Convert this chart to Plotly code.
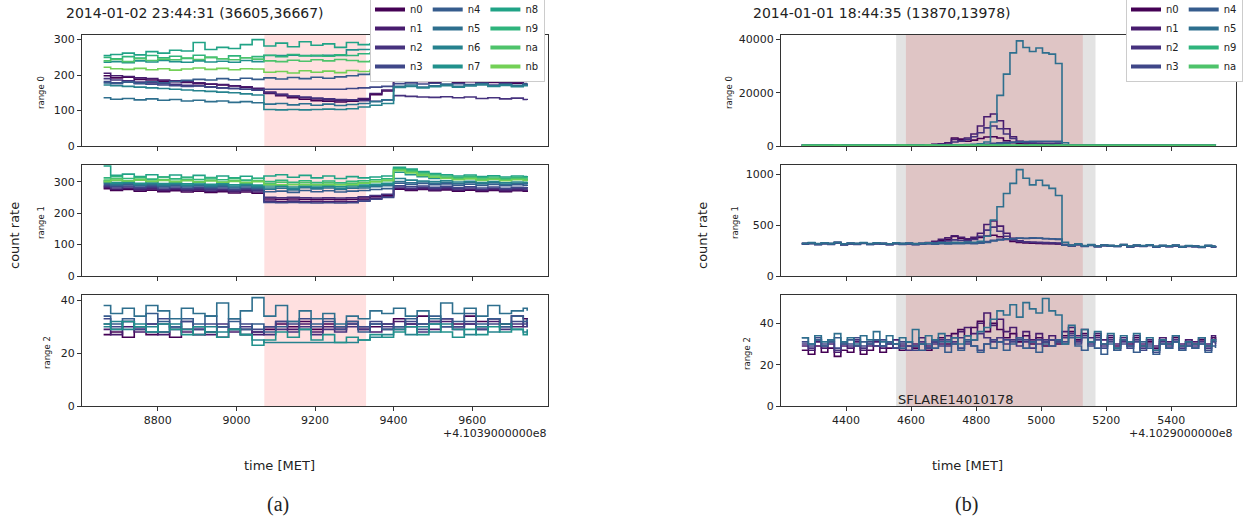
import plotly.graph_objects as go

# ---------------- data: panel (a) ----------------
# time offsets [s] relative to 4.1039e8
t_a = [8662, 8680, 8710, 8740, 8770, 8800, 8830, 8860, 8890, 8920, 8950, 8980, 9010, 9040,
       9070, 9100, 9130, 9160, 9190, 9220, 9250, 9280, 9310, 9340, 9370, 9400, 9430, 9460,
       9490, 9520, 9550, 9580, 9610, 9640, 9670, 9700, 9730, 9740]

# range 0
a_r0_n0 = [198,192,194,188,186,183,181,179,176,174, 172,169,166,160,148,142,136,132,128,126, 124,126,130,145,155,188,185,182,180,183, 178,181,177,179,175,177,172,170]
a_r0_n1 = [205,198,196,192,190,186,184,181,178,175, 173,170,167,163,152,146,140,136,133,130, 128,129,134,148,158,194,190,187,184,186, 182,184,180,182,178,180,176,176]
a_r0_n2 = [190,186,184,180,178,176,174,171,169,167, 164,162,160,157,150,145,141,138,135,133, 131,130,128,126,130,142,140,138,137,139, 136,138,134,136,133,135,131,130]
a_r0_n3 = [182,178,180,176,174,172,170,168,170,166, 164,162,160,158,160,160,160,160,160,160, 160,162,164,166,168,176,178,175,177,174, 176,173,175,172,174,170,172,171]
a_r0_n4 = [178,176,180,177,181,178,182,185,188,186, 190,187,191,188,192,189,193,190,194,191, 195,198,202,205,210,214,212,215,211,214, 210,213,209,212,208,211,207,209]
a_r0_n5 = [136,132,134,130,133,129,131,127,129,125, 127,123,125,122,118,120,116,119,115,118, 114,117,120,125,130,168,172,166,170,174, 168,172,176,170,174,171,175,174]
a_r0_n6 = [172,170,168,166,164,162,160,158,156,154, 152,150,147,144,103,102,103,102,103,104, 103,105,110,115,120,165,168,164,167,170, 166,169,172,168,171,167,170,168]
a_r0_n7 = [236,238,235,240,237,241,238,236,240,237, 239,236,241,238,255,255,256,255,254,256, 255,271,272,272,271,272,270,271,269,270, 268,269,267,268,266,267,265,266]
a_r0_n8 = [255,258,262,257,266,262,270,268,292,272, 278,275,286,300,282,290,280,294,284,288, 278,292,286,288,282,290,284,280,288,282, 286,290,284,288,282,286,280,284]
a_r0_n9 = [250,246,252,248,255,249,253,247,256,250, 246,254,249,252,256,252,258,254,256,253, 257,255,260,262,258,264,260,262,258,261, 259,263,260,258,262,259,261,260]
a_r0_na = [240,244,238,246,241,245,243,248,244,250, 246,243,249,245,240,238,242,239,243,240, 244,241,238,240,236,238,235,237,234,236, 233,235,232,234,231,233,230,232]
a_r0_nb = [222,218,216,219,215,218,214,217,220,216, 219,215,218,217,208,210,206,212,208,211, 207,213,210,214,216,212,215,211,214,210, 213,208,211,207,209,205,207,204]

# range 1
a_r1_n0 = [278,272,275,270,273,268,271,267,270,266, 268,264,267,263,245,244,245,244,243,244, 243,244,248,252,256,276,272,275,271,274, 270,273,269,272,268,271,270,272]
a_r1_n1 = [282,276,279,274,277,272,275,271,274,270, 272,268,271,267,238,237,238,237,236,237, 236,237,242,247,252,279,275,278,274,277, 273,276,272,275,271,274,273,275]
a_r1_n2 = [285,280,283,278,281,276,279,275,278,274, 276,272,275,271,250,249,250,249,248,249, 248,249,252,256,260,283,279,282,278,281, 277,280,276,279,275,278,277,279]
a_r1_n3 = [288,284,286,282,285,280,283,279,282,278, 280,276,279,275,234,233,234,233,232,233, 232,233,238,244,250,287,284,286,282,285, 281,284,280,283,279,282,281,283]
a_r1_n4 = [292,288,290,286,289,284,287,283,286,282, 284,280,283,279,268,270,266,272,268,271, 267,270,272,275,278,295,291,294,290,293, 289,292,288,291,287,290,289,291]
a_r1_n5 = [295,290,294,289,292,287,291,286,289,285, 288,283,287,282,276,279,274,281,277,280, 275,279,280,284,287,300,296,299,295,298, 294,297,293,296,292,295,294,296]
a_r1_n6 = [298,294,297,292,295,290,294,289,292,288, 291,286,290,285,280,284,278,285,281,284, 279,283,284,288,291,310,305,302,300,303, 299,301,297,300,296,299,298,300]
a_r1_n7 = [302,297,300,295,299,294,297,293,296,292, 295,290,293,289,286,289,283,290,286,289, 284,288,289,292,295,330,322,316,310,312, 308,311,306,309,305,308,306,308]
a_r1_n8 = [350,320,324,316,322,315,321,314,320,313, 318,312,317,311,318,322,314,320,312,318, 310,316,312,315,318,346,340,332,326,322, 318,321,316,319,315,318,316,318]
a_r1_n9 = [312,316,310,314,308,315,309,313,307,312, 306,311,305,310,300,304,298,303,297,302, 296,301,303,306,309,342,336,328,322,318, 314,317,312,315,311,314,312,314]
a_r1_na = [305,309,303,308,302,307,301,306,300,305, 299,304,298,303,294,298,292,297,291,296, 290,295,297,300,303,338,332,324,318,314, 310,313,308,311,307,310,308,310]
a_r1_nb = [300,304,302,305,301,304,300,303,299,302, 298,301,297,300,290,290,290,290,290,290, 290,290,295,300,304,335,328,320,314,310, 306,309,304,307,303,306,304,306]

# range 2
a_r2_n0 = [27,28,26,29,27,28,26,29,27,28, 26,29,27,28,29,31,30,32,29,31, 30,32,29,30,31,33,31,34,32,33, 31,34,32,33,31,34,33,32]
a_r2_n1 = [29,27,30,28,31,27,30,28,29,27, 30,28,29,27,30,32,29,31,28,30, 29,31,30,28,29,32,30,31,29,32, 30,31,29,32,31,30,32,31]
a_r2_n2 = [31,29,32,30,28,31,29,32,30,28, 31,29,30,28,27,29,28,30,27,29, 28,30,29,31,30,29,31,28,32,30, 29,31,30,33,29,31,30,32]
a_r2_n3 = [33,30,32,29,31,33,30,32,29,31, 30,33,31,29,30,32,31,33,30,32, 29,31,30,32,31,30,32,29,31,33, 30,32,29,31,30,32,31,30]
a_r2_n4 = [34,31,33,30,35,32,30,33,31,34, 30,32,29,31,28,30,32,29,31,33, 30,32,28,31,29,30,33,31,34,30, 32,35,31,33,30,34,32,33]
a_r2_n5 = [38,35,37,34,38,36,33,37,35,34, 39,33,36,41,34,38,32,36,33,35, 31,34,33,36,35,37,34,36,33,39, 35,37,34,38,35,36,37,36]
a_r2_n6 = [30,32,29,31,30,28,31,29,27,30, 28,29,27,25,24,24,24,24,24,24, 24,24,25,26,27,29,27,30,28,31, 29,27,30,28,31,29,28,29]
a_r2_n7 = [31,29,32,30,28,31,29,27,30,28, 26,29,27,23,25,28,26,29,25,27, 24,26,25,27,26,28,30,27,31,28, 26,29,27,30,28,29,27,28]

# ---------------- data: panel (b) ----------------
# time offsets [s] relative to 4.1029e8
t_b = [4264, 4284, 4304, 4324, 4344, 4364, 4384, 4404, 4424, 4444,
       4464, 4484, 4504, 4524, 4544, 4564, 4584, 4604, 4624, 4644,
       4664, 4684, 4704, 4724, 4744, 4764, 4784, 4804, 4824, 4844,
       4864, 4884, 4904, 4924, 4944, 4964, 4984, 5004, 5024, 5044,
       5064, 5084, 5104, 5124, 5144, 5164, 5184, 5204, 5224, 5244,
       5264, 5284, 5304, 5324, 5344, 5364, 5384, 5404, 5424, 5444,
       5464, 5484, 5504, 5524, 5536]

# range 0
b_r0_n0 = [318,312,320,310,316,322,311,317,313,319, 314,320,312,318,315,321,313,317,350,420, 520,600,650,3000,2600,1800,2200,2800,3400,3500, 3000,2000,1200,900,750,700,650,620,600,580, 310,305,312,302,308,300,306,298,304,300, 296,303,298,301,295,300,297,293,299,295, 292,298,294,296,295]
b_r0_n1 = [322,316,325,314,320,327,315,321,318,324, 319,325,316,322,320,326,318,324,360,450, 600,800,1200,2500,2000,3000,4500,7500,11000,12000, 9500,6500,3500,1800,1200,900,800,750,700,680, 315,308,316,305,311,303,309,301,307,302, 299,306,300,304,297,303,299,295,301,297, 294,300,296,298,297]
b_r0_n2 = [315,309,317,307,313,319,308,314,310,316, 311,317,309,315,312,318,310,316,340,400, 480,550,500,1500,1800,2500,3500,5000,6800,7500, 6500,4500,2800,1700,1300,1100,1000,950,900,880, 307,301,309,298,304,296,302,294,300,296, 292,299,294,297,290,296,292,288,294,290, 287,293,289,291,290]
b_r0_n3 = [320,314,322,312,318,324,313,319,315,321, 316,322,314,320,317,323,315,319,325,330, 340,350,360,380,400,420,450,500,600,1000, 1200,1400,1500,1550,1600,1580,1620,1600,1580,1550, 312,306,314,303,309,301,307,299,305,301, 297,304,299,302,295,301,297,293,299,295, 292,298,294,296,295]
b_r0_n4 = [318,312,320,310,316,322,311,317,313,319, 314,320,312,318,315,321,313,317,320,325, 330,335,340,345,350,360,380,420,500,650, 800,1000,1300,1500,1700,1750,1800,1780,1800,1750, 310,304,312,301,307,299,305,297,303,299, 295,302,297,300,293,299,295,291,297,293, 290,296,292,294,293]
b_r0_n5 = [325,319,327,317,323,329,318,324,320,326, 321,327,319,325,322,328,320,324,330,340, 350,360,380,420,460,520,600,800,1500,9000, 19000,27000,35000,39500,37000,35500,36800,35000,34500,31000, 1200,308,315,304,310,302,308,300,306,302, 298,305,300,303,296,302,298,294,300,296, 293,299,295,297,296]
b_r0_n9 = [300,296,303,294,299,305,295,301,297,302, 298,304,296,301,299,305,297,302,300,306, 298,303,297,304,299,305,300,306,301,307, 302,308,303,309,304,310,305,309,304,308, 300,295,302,293,298,291,297,289,295,291, 288,294,290,293,287,292,289,285,291,287, 284,290,286,288,287]
b_r0_na = [305,301,308,299,304,310,300,306,302,307, 303,309,301,306,304,310,302,307,305,311, 303,308,302,309,304,310,305,311,306,312, 307,313,308,314,309,315,310,314,309,313, 305,300,307,298,303,296,302,294,300,296, 293,299,295,298,292,297,294,290,296,292, 289,295,291,293,292]

# range 1
b_r1_n0 = [316,322,312,320,314,326,310,318,315,323, 313,319,316,311,320,314,318,312,316,322, 330,345,360,388,372,355,365,378,392,400, 385,360,340,330,325,322,320,318,316,315, 305,298,310,294,303,290,300,296,292,305, 288,299,294,302,287,296,291,298,285,294, 290,283,296,288,292]
b_r1_n1 = [320,326,316,324,318,330,314,322,319,327, 317,323,320,315,324,318,322,316,320,328, 340,360,375,395,380,365,380,420,505,540, 490,420,370,345,335,330,326,323,320,318, 308,301,313,297,306,293,303,299,295,308, 291,302,297,305,290,299,294,301,288,297, 293,286,299,291,295]
b_r1_n2 = [312,318,308,316,310,322,306,314,311,319, 309,315,312,307,316,310,314,308,312,318, 325,335,345,355,350,345,360,390,450,480, 440,390,355,340,335,332,330,328,326,324, 302,295,307,291,300,287,297,293,289,302, 285,296,291,299,284,293,288,295,282,291, 287,280,293,285,289]
b_r1_n3 = [318,324,314,322,316,328,312,320,317,325, 315,321,318,313,322,316,320,314,318,322, 318,322,320,324,322,326,324,330,338,350, 360,365,368,370,368,372,370,366,364,360, 306,299,311,295,304,291,301,297,293,306, 289,300,295,303,288,297,292,299,286,295, 291,284,297,289,293]
b_r1_n4 = [314,320,310,318,312,324,308,316,313,321, 311,317,314,309,318,312,316,310,314,318, 312,316,314,318,316,320,318,322,330,345, 355,362,366,372,370,374,372,368,366,362, 304,297,309,293,302,289,299,295,291,304, 287,298,293,301,286,295,290,297,284,293, 289,282,295,287,291]
b_r1_n5 = [322,328,318,326,320,332,316,324,321,329, 319,325,322,317,326,320,324,318,322,326, 324,328,326,330,328,334,332,340,390,550, 680,810,910,1045,960,895,940,890,860,790, 330,303,315,299,308,295,305,301,297,310, 293,304,299,307,292,301,296,303,290,299, 295,288,301,293,297]

# range 2
b_r2_n0 = [27,25,29,26,28,24,27,26,29,25, 27,29,26,28,30,27,29,28,30,27, 31,33,30,35,37,34,38,41,36,40, 37,33,35,31,34,30,33,29,32,30, 34,36,32,35,31,34,30,33,29,32, 30,33,29,31,28,32,30,33,29,31, 30,32,29,33,31]
b_r2_n1 = [29,27,31,28,30,26,29,28,31,27, 29,31,28,30,32,29,31,30,33,29, 32,30,34,33,36,38,35,40,45,39, 42,36,38,33,36,32,35,31,34,32, 36,38,34,37,33,35,32,34,30,33, 31,34,30,32,29,33,31,34,30,32, 31,33,30,34,32]
b_r2_n2 = [30,28,32,29,31,27,30,29,32,28, 30,32,29,31,28,30,27,29,31,28, 30,32,29,31,33,30,32,35,33,31, 33,30,32,29,31,28,30,32,29,31, 33,35,31,34,30,33,29,32,28,31, 29,32,28,30,27,31,29,32,28,30, 29,31,28,32,30]
b_r2_n3 = [31,29,33,30,32,28,31,30,33,29, 31,29,32,30,28,31,29,27,30,28, 31,29,32,30,28,31,29,27,30,32, 31,32,31,32,32,31,32,31,32,31, 31,34,30,33,29,32,28,31,27,30, 28,31,27,29,26,30,28,31,27,29, 28,30,27,31,29]
b_r2_n4 = [33,30,32,29,31,33,30,32,29,31, 30,32,29,31,30,28,31,29,27,30, 28,31,26,30,27,32,29,26,30,28, 31,27,30,33,28,31,26,30,29,32, 30,33,29,27,31,28,25,30,27,32, 29,26,31,28,25,30,28,31,27,29, 28,30,26,29,28]
b_r2_n5 = [33,30,34,31,32,35,31,33,30,34, 32,36,31,34,30,33,31,37,30,34, 32,35,31,33,30,34,32,36,38,42, 46,44,49,43,50,47,45,52,46,44, 30,39,33,37,31,36,30,35,28,34, 31,35,29,33,27,32,30,34,29,31, 30,33,29,32,31]

# shaded intervals (time offsets)
span_a_red = [9071, 9330]
span_b_grey = [4554, 5167]
span_b_red = [4584, 5128]

# ---------------- assemble ----------------
det_colors = {
    'n0': '#440154', 'n1': '#481c6e', 'n2': '#46327e', 'n3': '#3f4788',
    'n4': '#365c8d', 'n5': '#2e6f8e', 'n6': '#26828e', 'n7': '#21918c',
    'n8': '#20a386', 'n9': '#2fb47c', 'na': '#4ec36b', 'nb': '#73d056',
}

panel_a = [
    [('n0', a_r0_n0), ('n1', a_r0_n1), ('n2', a_r0_n2), ('n3', a_r0_n3), ('n4', a_r0_n4), ('n5', a_r0_n5),
     ('n6', a_r0_n6), ('n7', a_r0_n7), ('n8', a_r0_n8), ('n9', a_r0_n9), ('na', a_r0_na), ('nb', a_r0_nb)],
    [('n0', a_r1_n0), ('n1', a_r1_n1), ('n2', a_r1_n2), ('n3', a_r1_n3), ('n4', a_r1_n4), ('n5', a_r1_n5),
     ('n6', a_r1_n6), ('n7', a_r1_n7), ('n8', a_r1_n8), ('n9', a_r1_n9), ('na', a_r1_na), ('nb', a_r1_nb)],
    [('n0', a_r2_n0), ('n1', a_r2_n1), ('n2', a_r2_n2), ('n3', a_r2_n3), ('n4', a_r2_n4), ('n5', a_r2_n5),
     ('n6', a_r2_n6), ('n7', a_r2_n7)],
]
panel_b = [
    [('n0', b_r0_n0), ('n1', b_r0_n1), ('n2', b_r0_n2), ('n3', b_r0_n3), ('n4', b_r0_n4), ('n5', b_r0_n5),
     ('n9', b_r0_n9), ('na', b_r0_na)],
    [('n0', b_r1_n0), ('n1', b_r1_n1), ('n2', b_r1_n2), ('n3', b_r1_n3), ('n4', b_r1_n4), ('n5', b_r1_n5)],
    [('n0', b_r2_n0), ('n1', b_r2_n1), ('n2', b_r2_n2), ('n3', b_r2_n3), ('n4', b_r2_n4), ('n5', b_r2_n5)],
]

for name, t, panel in (('a', t_a, panel_a), ('b', t_b, panel_b)):
    for r, rows in enumerate(panel):
        for d, vals in rows:
            if len(vals) != len(t):
                raise ValueError(f'{name} range {r} {d}: {len(vals)} != {len(t)}')

W, H = 1251, 520
FONT = 'DejaVu Sans'
AXC = '#333333'
TXT = '#222222'

def fx(p):
    return p / W

def fy(p):
    return 1 - p / H

rows_px = [(35, 146), (165, 276), (295, 406)]
cols_px = {'a': (82, 548), 'b': (781, 1236)}
xr = {'a': [8607, 9793], 'b': [4200, 5599]}
xt = {'a': [8800, 9000, 9200, 9400, 9600], 'b': [4400, 4600, 4800, 5000, 5200, 5400]}
yr = {'a': [[0, 313], [0, 353], [0, 42]], 'b': [[0, 41700], [0, 1090], [0, 53.7]]}
yt = {'a': [[0, 100, 200, 300], [0, 100, 200, 300], [0, 20, 40]],
      'b': [[0, 20000, 40000], [0, 500, 1000], [0, 20, 40]]}

fig = go.Figure()
layout = {}
shapes = []

for p_i, (pname, t, panel) in enumerate((('a', t_a, panel_a), ('b', t_b, panel_b))):
    for r, rows in enumerate(panel):
        s = p_i * 3 + r + 1
        xa = 'x' if s == 1 else f'x{s}'
        ya = 'y' if s == 1 else f'y{s}'
        for d, vals in rows:
            fig.add_trace(go.Scatter(
                x=t, y=vals, mode='lines', line=dict(color=det_colors[d], width=1.6, shape='hv'),
                xaxis=xa, yaxis=ya, showlegend=False, name=d, hoverinfo='skip'))
        c0, c1 = cols_px[pname]
        r0, r1 = rows_px[r]
        layout[f'xaxis{s}'] = dict(
            domain=[fx(c0), fx(c1)], range=xr[pname], anchor=ya, tickvals=xt[pname],
            ticktext=[str(v) for v in xt[pname]], showticklabels=(r == 2),
            ticks='outside', ticklen=4, tickwidth=1, tickcolor=AXC, showline=True, mirror=True,
            linecolor=AXC, linewidth=1, showgrid=False, zeroline=False,
            tickfont=dict(family=FONT, size=11, color=TXT))
        layout[f'yaxis{s}'] = dict(
            domain=[fy(r1), fy(r0)], range=yr[pname][r], anchor=xa, tickvals=yt[pname][r],
            ticktext=[str(v) for v in yt[pname][r]],
            ticks='outside', ticklen=4, tickwidth=1, tickcolor=AXC, showline=True, mirror=True,
            linecolor=AXC, linewidth=1, showgrid=False, zeroline=False,
            tickfont=dict(family=FONT, size=11, color=TXT))
        if pname == 'a':
            shapes.append(dict(type='rect', xref=xa, yref=f'{ya} domain', x0=span_a_red[0], x1=span_a_red[1],
                               y0=0, y1=1, fillcolor='rgba(255,0,0,0.12)', line=dict(width=0), layer='below'))
        else:
            shapes.append(dict(type='rect', xref=xa, yref=f'{ya} domain', x0=span_b_grey[0], x1=span_b_grey[1],
                               y0=0, y1=1, fillcolor='rgba(128,128,128,0.22)', line=dict(width=0), layer='below'))
            shapes.append(dict(type='rect', xref=xa, yref=f'{ya} domain', x0=span_b_red[0], x1=span_b_red[1],
                               y0=0, y1=1, fillcolor='rgba(200,0,0,0.13)', line=dict(width=0), layer='below'))

# legend-only handles (thicker, like matplotlib's legend)
leg_a = [['n0', 'n1', 'n2', 'n3'], ['n4', 'n5', 'n6', 'n7'], ['n8', 'n9', 'na', 'nb']]
leg_b = [['n0', 'n1', 'n2', 'n3'], ['n4', 'n5', 'n9', 'na']]
for lname, groups, xa, ya in (('legend', leg_a, 'x', 'y'), ('legend2', leg_b, 'x4', 'y4')):
    for g_i, grp in enumerate(groups):
        for d in grp:
            fig.add_trace(go.Scatter(x=[None], y=[None], mode='lines', name=d,
                                     line=dict(color=det_colors[d], width=4),
                                     legendgroup=f'{lname}_g{g_i}', legend=lname,
                                     xaxis=xa, yaxis=ya, showlegend=True, hoverinfo='skip'))

legend_common = dict(orientation='h', traceorder='grouped', xanchor='left', yanchor='top',
                     bgcolor='white', bordercolor='#cccccc', borderwidth=1, itemwidth=30,
                     tracegroupgap=6, font=dict(family=FONT, size=10, color=TXT),
                     itemclick=False, itemdoubleclick=False)
layout['legend'] = dict(x=fx(370), y=fy(-6), **legend_common)
layout['legend2'] = dict(x=fx(1126), y=fy(-6), **legend_common)

ann = []
def text(x, y, s, size=11, xanchor='center', yanchor='middle', angle=0, family=FONT, xref='paper', yref='paper', yshift=0):
    ann.append(dict(x=x, y=y, xref=xref, yref=yref, text=s, showarrow=False, xanchor=xanchor,
                    yanchor=yanchor, textangle=angle, yshift=yshift,
                    font=dict(family=family, size=size, color=TXT)))

# titles
text(fx(64), fy(13), '2014-01-02 23:44:31 (36605,36667)', size=14, xanchor='left')
text(fx(751), fy(13), '2014-01-01 18:44:35 (13870,13978)', size=14, xanchor='left')
# range labels
for x_px, y_px, lab in ((41, 93, 'range 0'), (41, 223, 'range 1'), (47, 353, 'range 2'),
                        (729, 93, 'range 0'), (735, 223, 'range 1'), (747, 353, 'range 2')):
    text(fx(x_px), fy(y_px), lab, size=8.5, angle=-90)
# count rate
text(fx(15), fy(236), 'count rate', size=13, angle=-90)
text(fx(703), fy(236), 'count rate', size=13, angle=-90)
# offsets
text(fx(548), fy(433), '+4.1039000000e8', size=11, xanchor='right')
text(fx(1234), fy(433), '+4.1029000000e8', size=11, xanchor='right')
# x labels
text(fx(279), fy(465), 'time [MET]', size=13)
text(fx(967), fy(465), 'time [MET]', size=13)
# captions
text(fx(278), fy(504), '(a)', size=20, family='Liberation Serif')
text(fx(966), fy(504), '(b)', size=20, family='Liberation Serif')
# event label
text(span_b_grey[0], 0, 'SFLARE14010178', size=13, xanchor='left', yanchor='bottom',
     xref='x6', yref='y6', yshift=-3)

layout.update(dict(
    width=W, height=H, margin=dict(l=0, r=0, t=0, b=0, autoexpand=False),
    paper_bgcolor='white', plot_bgcolor='white', shapes=shapes, annotations=ann,
    font=dict(family=FONT, size=11, color=TXT), hovermode=False,
))
fig.update_layout(**layout)
fig.write_html('out.html', config={'displayModeBar': False, 'staticPlot': False},
               post_script="document.body.style.margin='0px';document.body.style.overflow='hidden';")
